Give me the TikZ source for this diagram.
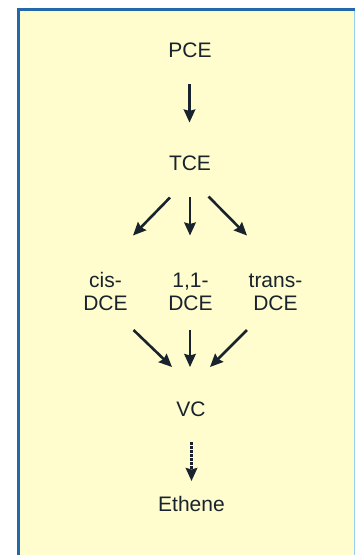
\documentclass[tikz,border=0pt]{standalone}
\usepackage{fontspec}
\setmainfont{Liberation Sans}
\usetikzlibrary{arrows.meta}
\definecolor{paper}{RGB}{255,252,205}
\definecolor{frameblue}{RGB}{35,105,170}
\definecolor{edgeblue}{RGB}{150,205,240}
\definecolor{ink}{RGB}{25,35,45}
\tikzset{
  label/.style={inner sep=0pt, text=ink, align=center,
    font=\fontsize{21}{23.5}\selectfont},
  flow/.style={draw=ink, line width=2.6pt,
    -{Stealth[length=13pt,width=11.5pt,inset=1.5pt]}},
  flowdash/.style={flow, dash pattern=on 3pt off 1pt}
}
\begin{document}
\begin{tikzpicture}[x=1pt,y=-1pt]
\useasboundingbox (0,0) rectangle (357,555);
% panel
\fill[white] (0,0) rectangle (357,555);
\fill[paper] (18,9) rectangle (355,555);
\draw[edgeblue, line width=1.5pt] (354.5,9) -- (354.5,555);
\draw[frameblue, line width=3pt] (18.5,555) -- (18.5,9.5) -- (355,9.5);

% species (two-line labels sit on the baseline of their last line)
\node[label, anchor=base] (pce) at (190,57) {PCE};
\node[label, anchor=base] (tce) at (190,170) {TCE};
\node[label, anchor=base] (cis) at (105.5,310.5) {cis-\\DCE};
\node[label, anchor=base] (dce11) at (190.5,310.5) {1,1-\\DCE};
\node[label, anchor=base] (trans) at (275.5,310.5) {trans-\\DCE};
\node[label, anchor=base] (vc) at (191,416) {VC};
\node[label, anchor=base] (eth) at (191.5,511.5) {Ethene};

% arrow ends
\coordinate (p0) at (189.5,84);   \coordinate (p1) at (189.5,122.5);
\coordinate (t0) at (170,197.5);  \coordinate (t1) at (133,235.5);
\coordinate (t2) at (190,197);    \coordinate (t3) at (190,235.5);
\coordinate (t4) at (208.5,196.5);\coordinate (t5) at (247,235.5);
\coordinate (d0) at (133.5,330);  \coordinate (d1) at (172,367);
\coordinate (d2) at (190,330);    \coordinate (d3) at (190,367);
\coordinate (d4) at (247,330);    \coordinate (d5) at (210,367);
\coordinate (v0) at (191.5,442);  \coordinate (v1) at (191.5,481);

\draw[flow] (p0) -- (p1);
\draw[flow] (t0) -- (t1);
\draw[flow] (t2) -- (t3);
\draw[flow] (t4) -- (t5);
\draw[flow] (d0) -- (d1);
\draw[flow] (d2) -- (d3);
\draw[flow] (d4) -- (d5);
\draw[flowdash] (v0) -- (v1);
\end{tikzpicture}
\end{document}
